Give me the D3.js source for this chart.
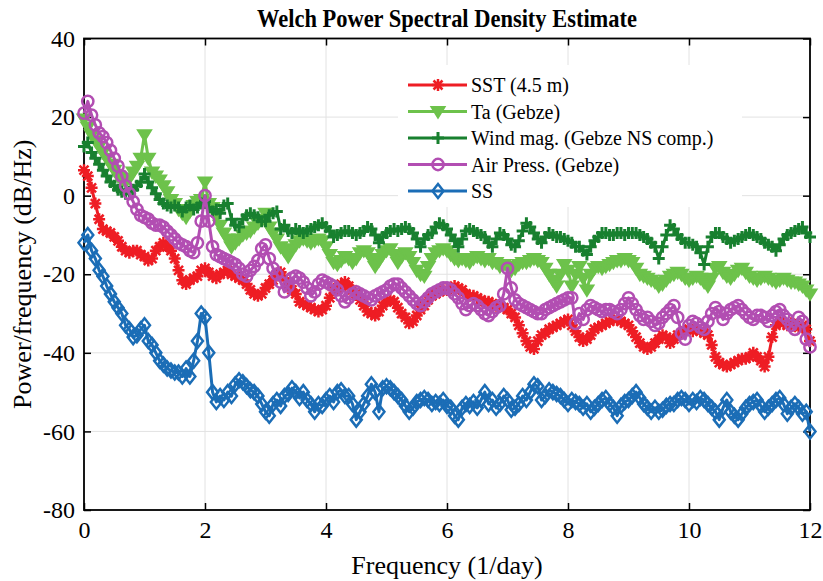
<!DOCTYPE html>
<html>
<head>
<meta charset="utf-8">
<script src="https://d3js.org/d3.v7.min.js"></script>
<style>
body { margin: 0; background: #fff; }
text { font-family: "Liberation Serif", "Times New Roman", serif; fill: #000; }
</style>
</head>
<body>
<div id="chart"></div>
<script>
// PSD values (dB/Hz), one point every 1/16 day from 0 to 12
const sst = [
  6.5, 5, 2, -2, -6, -8.5, -9, -9.5, -10.5, -11.5, -13, -14, -14.5, -14, -14, -15,
  -15.5, -16.5, -16, -14, -13, -12, -13, -14, -16, -19, -21.5, -22.5, -21.5, -21, -20.5, -19,
  -18.5, -19.5, -20.5, -21, -20, -19.5, -19, -20, -20.5, -21, -21.5, -22.5, -24, -25, -25.5, -25,
  -23.5, -22.5, -21.5, -20, -19.5, -21, -22.5, -24, -25, -27, -27.5, -28, -28.5, -29, -29.5, -29,
  -28, -26, -24, -23.5, -22.5, -22, -23, -24, -25, -26.5, -28, -29.5, -30, -30.5, -29.5, -28,
  -27, -26.5, -27, -28.5, -30, -31, -32.5, -32, -30.5, -29, -28, -26.5, -25.5, -25, -24.5, -24,
  -24, -23.5, -23, -23.5, -24, -25, -25.5, -25.5, -26, -26.5, -27, -27, -27.5, -28, -28, -28.5,
  -29, -30, -31, -33, -35, -37, -38.5, -39, -37, -35.5, -35, -34, -33.5, -33, -32.5, -32,
  -31.5, -33, -34.5, -36, -37, -36.5, -35.5, -34, -33.5, -33, -32.5, -32, -31.5, -31.5, -32, -32.5,
  -33, -34.5, -36, -37.5, -38.5, -39, -38.5, -37.5, -36.5, -35.5, -36, -37.5, -36.5, -35.5, -35, -34.5,
  -34, -34.5, -34, -34.5, -35, -35.5, -38, -41, -42.5, -43, -43.5, -43, -42.5, -42, -41.5, -41.5,
  -41, -40, -41, -42, -43.5, -41, -36, -33, -32, -32.5, -33, -32.5, -33, -33.5, -33, -34,
  -37
];
const ta = [
  19.5, 17.5, 15.5, 14, 12.5, 11, 9.5, 8, 6.5, 5, 4, 3.5, 4.5, 6, 7.5, 9.5,
  15.5, 9.5, 6, 5, 4, 2.5, 1, -1, -2, -3.5, -4.5, -5.5, -4, -2.5, -1.5, -1,
  3.5, -2, -3, -5, -7.5, -9.5, -11, -13, -12, -11, -10, -9.5, -9, -8, -7, -6,
  -4.5, -8, -9.5, -11, -13, -14, -15.5, -13.5, -12.5, -11.5, -11, -11.5, -12, -11.5, -11, -11.5,
  -13, -15, -17, -17.5, -16.5, -15.5, -16, -17, -16, -14.5, -14, -14.5, -16, -18, -16.5, -15,
  -14, -13.5, -15, -17, -15.5, -14.5, -15.5, -17, -19, -20, -20.5, -18, -16, -14.5, -14, -13.5,
  -14, -15, -16, -16.5, -16, -16.5, -17, -16, -15.5, -16, -16.5, -16, -17, -17, -18, -17.5,
  -18, -19, -18.5, -17.5, -17, -17, -16.5, -16, -16.5, -17, -18.5, -20, -21.5, -23, -20, -17.5,
  -19, -23, -20, -18, -21, -24, -20, -18.5, -18, -18.5, -18, -17.5, -17, -16.5, -16.5, -16,
  -16.5, -17, -18.5, -20, -20.5, -21, -21.5, -22, -23, -22.5, -21.5, -20.5, -20, -19.5, -20, -21,
  -21.5, -21, -20.5, -21, -22, -23, -21, -18.5, -18, -19.5, -20.5, -21, -20, -19, -18.5, -19.5,
  -20.5, -21, -21.5, -21, -20.5, -21, -21.5, -22, -21.5, -21, -21.5, -22, -22, -22.5, -23, -24,
  -25
];
const wind = [
  12.5, 13.5, 11, 9.5, 8, 6.5, 5, 3.5, 2.5, 1.5, 1, 0.5, 1, 1.5, 2.5, 3.5,
  5.5, 3.5, 2, 0.5, -1, -2, -2.5, -3, -2.5, -3, -4, -3, -2.5, -3.5, -3, -2,
  -1.5, -3, -4, -3.5, -4.5, -2.5, -2, -6, -7.5, -8, -6, -5, -4.5, -5, -5.5, -6.5,
  -6.5, -5, -4.5, -4, -8.5, -7.5, -9, -9.5, -8.5, -9, -9.5, -9, -8.5, -8, -7.5, -7,
  -8, -9, -10.5, -10, -9.5, -9, -9, -9.5, -10, -9.5, -9, -8, -8.5, -10, -12, -10.5,
  -9.5, -9, -8.5, -9, -8.5, -8, -8.5, -9.5, -11, -13, -11, -10, -9.5, -8, -7, -7.5,
  -8.5, -10, -11.5, -13, -11, -9, -8.5, -9, -9.5, -10, -10.5, -12, -13, -11, -9.5, -10,
  -11, -12.5, -13, -11.5, -9, -7, -8, -9.5, -11, -12, -10.5, -9.5, -10, -10.5, -10.5, -11,
  -11.5, -12, -13, -13, -14, -15, -13, -11.5, -10.5, -9.5, -9.5, -10, -10, -9.5, -9.5, -10,
  -9.5, -9.5, -9.5, -10, -10.5, -11, -12, -13, -16, -13, -10, -7.5, -8.5, -10, -11, -12,
  -12, -12.5, -13, -14.5, -17.5, -13, -10.5, -9.5, -9.5, -10.5, -11, -12, -11.5, -11, -10.5, -10,
  -9.5, -10, -10.5, -11, -12, -12.5, -13, -14, -12.5, -11, -10, -9.5, -9, -8.5, -8, -9.5,
  -10.5
];
const airPress = [
  21, 24, 20.5, 18, 16, 15, 13.5, 11.5, 9.5, 7.5, 5, 2.5, 0.5, -1.5, -3.5, -5,
  -5.5, -6, -7, -7.5, -7.5, -8, -9, -10, -11, -12, -12.5, -13, -14, -14.5, -12, -6.5,
  0, -6.5, -13, -15, -15.5, -16, -16.5, -17, -17.5, -18.5, -20, -20.5, -19, -18, -16.5, -13.5,
  -12.5, -16, -18.5, -20, -22, -24.5, -23, -21, -20.5, -21, -22, -23.5, -25.5, -24.5, -22.5, -21.5,
  -22, -22.5, -23, -24, -25.5, -27, -26, -25, -24.5, -25, -25.5, -26, -26.5, -25.5, -25, -24.5,
  -24, -23, -22.5, -22.5, -23.5, -24.5, -25.5, -26.5, -27.5, -28, -27, -26, -25, -24.5, -24, -23.5,
  -23.5, -24, -25, -26, -27.5, -29, -28, -27.5, -28, -29, -30, -30.5, -29.5, -28.5, -28, -25,
  -18.5, -23.5, -26.5, -27.5, -28, -28.5, -29, -29.5, -30, -30, -29, -28.5, -28, -27.5, -27, -26.5,
  -26, -26, -32.5, -30, -31.5, -29, -28, -28.5, -29, -29.5, -29, -29, -29.5, -30, -29, -27.5,
  -26, -27.5, -29, -30.5, -31.5, -31, -32, -33, -32.5, -31, -30, -29, -28, -31, -35, -36.5,
  -33, -32, -32.5, -33.5, -34, -32, -30, -28.5, -29.5, -31.5, -30, -29, -28.5, -28, -29, -30,
  -31, -31.5, -30.5, -30.5, -31, -32, -30.5, -29.5, -29, -30.5, -31.5, -33, -34, -31, -32, -36.5,
  -38.5
];
const ss = [
  -12, -10, -14, -16, -19, -20.5, -23, -25, -27, -28.5, -30, -33, -34, -36, -35.5, -34,
  -33, -37, -38, -40, -42, -43, -44, -44.5, -45, -45, -46, -44, -46, -42, -37, -30,
  -31, -40, -50, -52.5, -51, -52, -50, -51, -48, -47, -47.5, -48.5, -49.5, -50, -51, -53,
  -55, -56, -53, -52, -53.5, -51, -50.5, -49, -50, -51.5, -50, -52, -53, -55, -53, -53.5,
  -52, -51, -52.5, -50, -49.5, -51, -51, -53, -57, -55, -53, -51, -48, -50, -55, -49,
  -48.5, -49, -50, -51, -52, -53.5, -55, -54, -52.5, -52, -51.5, -52, -53, -52.5, -53, -52,
  -53.5, -54, -56, -57, -54, -53, -53.5, -52.5, -54, -52, -50, -53, -52, -54, -53, -51,
  -52, -54.5, -54, -53, -51, -52, -50, -48, -48.5, -52, -51, -49.5, -50, -50.5, -51, -52,
  -53, -52, -52.5, -53, -54, -53, -55, -54, -53, -52, -51.5, -53, -54, -56, -53.5, -52.5,
  -52, -51, -50, -51.5, -53, -54, -55, -54, -55, -54.5, -53.5, -53, -53, -52, -51.5, -52,
  -53, -52, -52.5, -51.5, -52, -53, -54, -55, -57, -54, -52, -55, -56, -57, -55.5, -54,
  -53, -52.5, -52, -53.5, -55, -54, -53, -52, -51.5, -53, -55.5, -54, -53, -54, -55.5, -55,
  -60
];
const freq = sst.map((d, i) => i / 16);   // Welch frequency grid (1/day)

const xTicks = [0, 2, 4, 6, 8, 10, 12];
const yTicks = [40, 20, 0, -20, -40, -60, -80];
const seriesNames = ["SST (4.5 m)", "Ta (Gebze)", "Wind mag. (Gebze NS comp.)", "Air Press. (Gebze)", "SS"];
const seriesValues = [sst, ta, wind, airPress, ss];
const seriesColors = ["#ee1d24", "#6dc24b", "#18802f", "#b24eb2", "#1b6db6"];
const seriesMarkers = ["asterisk", "triangle", "plus", "circle", "diamond"];

var width = 823, height = 581;
var margin = {left: 84, right: 13, top: 38.5, bottom: 71};

var svg = d3.select("#chart").append("svg")
    .attr("width", width).attr("height", height);

const x = d3.scaleLinear().domain([0, 12]).range([margin.left, width - margin.right]);
const y = d3.scaleLinear().domain([-80, 40]).range([height - margin.bottom, margin.top]);

// grid
svg.append("g")
    .selectAll("line")
    .data(xTicks)
    .join("line")
    .attr("x1", d => x(d)).attr("x2", d => x(d))
    .attr("y1", y(40)).attr("y2", y(-80))
    .attr("stroke", "#e2e2e2").attr("stroke-width", 1);
svg.append("g")
    .selectAll("line")
    .data(yTicks)
    .join("line")
    .attr("x1", x(0)).attr("x2", x(12))
    .attr("y1", d => y(d)).attr("y2", d => y(d))
    .attr("stroke", "#e2e2e2").attr("stroke-width", 1);

// axes, ticks inside the box like MATLAB
function styleAxis(g) {
    g.select(".domain").remove();
    g.selectAll(".tick line").attr("stroke", "#000").attr("stroke-width", 1.5);
    g.selectAll(".tick text").style("font-size", "24px")
        .style("font-family", '"Liberation Serif", serif');
}
svg.append("g")
    .attr("transform", `translate(0,${y(-80)})`)
    .call(d3.axisBottom(x).tickValues(xTicks).tickFormat(d => String(d))
        .tickSizeInner(-7).tickSizeOuter(0).tickPadding(11))
    .call(styleAxis);
svg.append("g")
    .attr("transform", `translate(0,${y(40)})`)
    .call(d3.axisTop(x).tickValues(xTicks).tickFormat("")
        .tickSizeInner(-7).tickSizeOuter(0))
    .call(styleAxis);
svg.append("g")
    .attr("transform", `translate(${x(0)},0)`)
    .call(d3.axisLeft(y).tickValues(yTicks).tickFormat(d => String(d))
        .tickSizeInner(-7).tickSizeOuter(0).tickPadding(9))
    .call(styleAxis);
svg.append("g")
    .attr("transform", `translate(${x(12)},0)`)
    .call(d3.axisRight(y).tickValues(yTicks).tickFormat("")
        .tickSizeInner(-7).tickSizeOuter(0))
    .call(styleAxis);

svg.append("rect")
    .attr("x", x(0)).attr("y", y(40))
    .attr("width", x(12) - x(0)).attr("height", y(-80) - y(40))
    .attr("fill", "none").attr("stroke", "#000").attr("stroke-width", 1.8);

// marker shapes
const markerPath = {
    asterisk: "M-6,0H6M0,-6V6M-4.5,-4.5L4.5,4.5M-4.5,4.5L4.5,-4.5",
    triangle: "M-6.5,-4.5L6.5,-4.5L0,6Z",
    plus: "M-6,0H6M0,-6V6",
    circle: d3.symbol(d3.symbolCircle, 100)(),
    diamond: "M0,-7L5.5,0L0,7L-5.5,0Z"
};
const markerStroke = {asterisk: 2.5, triangle: 2, plus: 3, circle: 2.5, diamond: 2.5};

const line = d3.line().x((d, i) => x(freq[i])).y(d => y(d));

seriesValues.forEach((vals, k) => {
    const col = seriesColors[k];
    const mk = seriesMarkers[k];
    const g = svg.append("g");
    g.append("path")
        .attr("d", line(vals))
        .attr("fill", "none")
        .attr("stroke", col)
        .attr("stroke-width", 3)
        .attr("stroke-linejoin", "round");
    g.selectAll(".mk")
        .data(vals)
        .join("path")
        .attr("class", "mk")
        .attr("transform", (d, i) => `translate(${x(freq[i])},${y(d)})`)
        .attr("d", markerPath[mk])
        .attr("fill", mk === "triangle" ? col : "none")
        .attr("stroke", col)
        .attr("stroke-width", markerStroke[mk]);
});

// legend
const legend = svg.append("g");
legend.append("rect")
    .attr("x", 398).attr("y", 65)
    .attr("width", 344).attr("height", 142)
    .attr("fill", "#fff");
seriesNames.forEach((name, k) => {
    const ly = 85 + k * 26.5;
    const col = seriesColors[k];
    const mk = seriesMarkers[k];
    legend.append("line")
        .attr("x1", 408).attr("x2", 467)
        .attr("y1", ly).attr("y2", ly)
        .attr("stroke", col).attr("stroke-width", 3);
    legend.append("path")
        .attr("transform", `translate(438,${ly})`)
        .attr("d", markerPath[mk])
        .attr("fill", mk === "triangle" ? col : "none")
        .attr("stroke", col)
        .attr("stroke-width", markerStroke[mk]);
    legend.append("text")
        .attr("x", 471).attr("y", ly)
        .attr("dy", "0.35em")
        .style("font-size", "20px")
        .text(name);
});

// titles
svg.append("text")
    .attr("x", (x(0) + x(12)) / 2).attr("y", 27)
    .attr("text-anchor", "middle")
    .attr("textLength", 380).attr("lengthAdjust", "spacingAndGlyphs")
    .style("font-size", "25px").style("font-weight", "bold")
    .text("Welch Power Spectral Density Estimate");
svg.append("text")
    .attr("x", (x(0) + x(12)) / 2).attr("y", 574)
    .attr("text-anchor", "middle")
    .style("font-size", "26px")
    .text("Frequency (1/day)");
svg.append("text")
    .attr("transform", `translate(31,${(y(40) + y(-80)) / 2}) rotate(-90)`)
    .attr("text-anchor", "middle")
    .style("font-size", "26px")
    .text("Power/frequency (dB/Hz)");
</script>
</body>
</html>
